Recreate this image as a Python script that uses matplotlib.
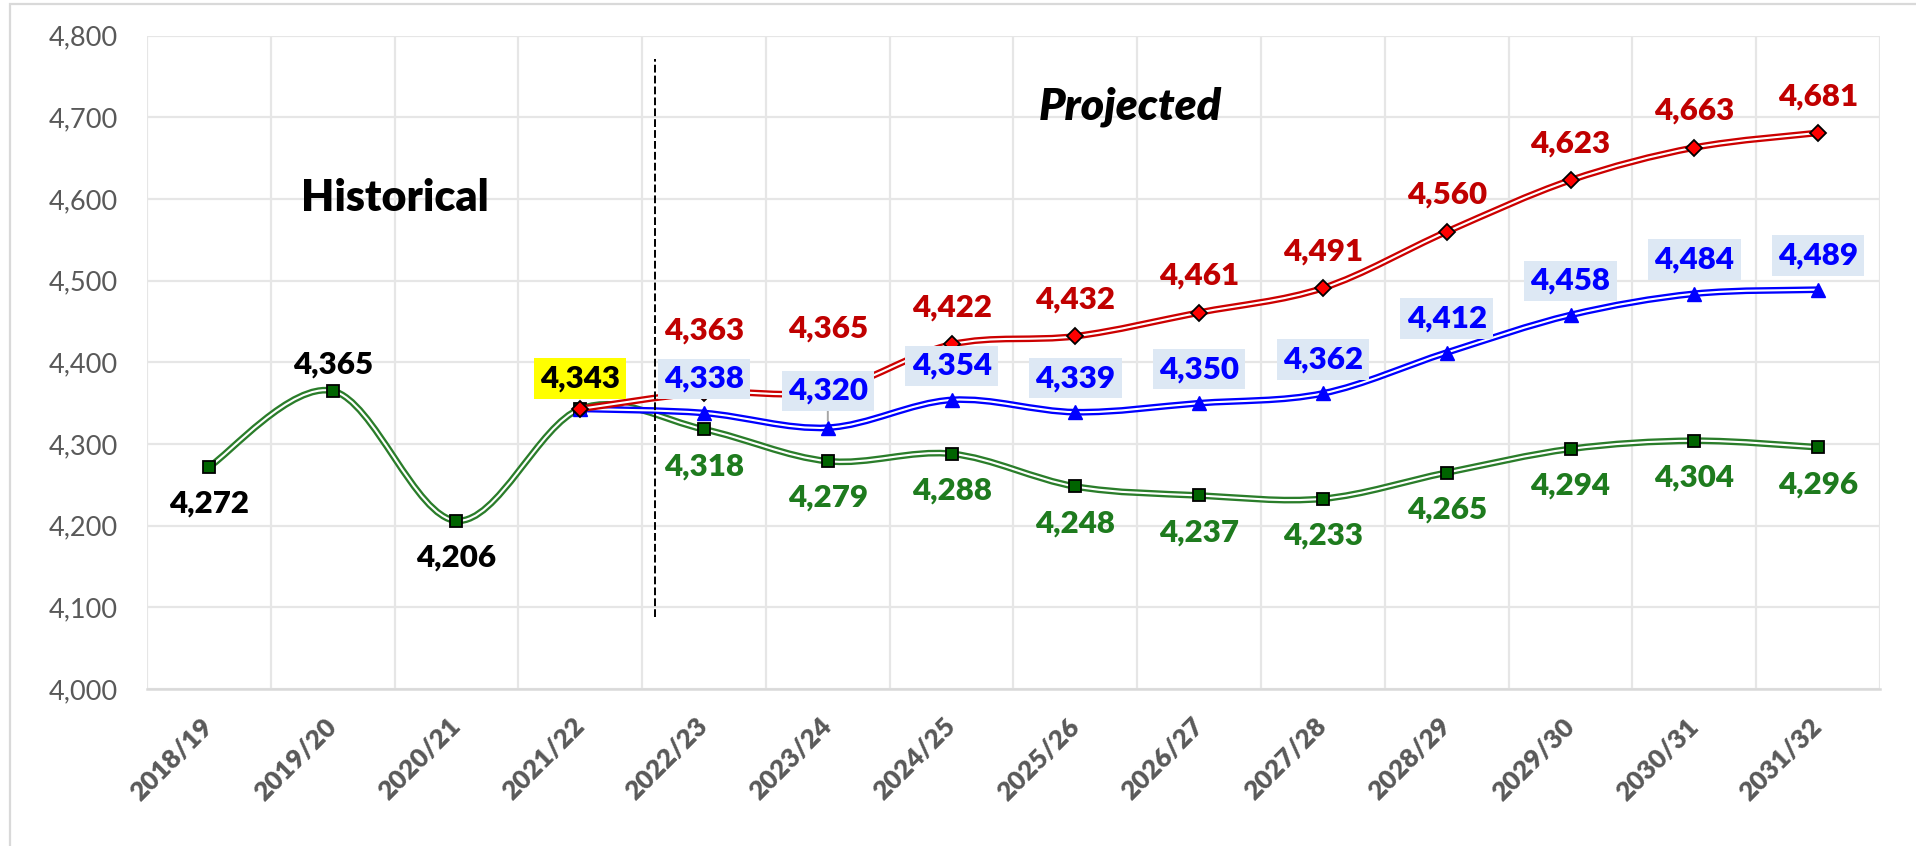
import matplotlib
matplotlib.use("Agg")
import matplotlib.pyplot as plt
import numpy as np
from matplotlib.path import Path
from matplotlib.patches import PathPatch, Rectangle
import matplotlib.transforms as mtrans

# ---------------- data ----------------
years = ["2018/19", "2019/20", "2020/21", "2021/22", "2022/23", "2023/24", "2024/25",
         "2025/26", "2026/27", "2027/28", "2028/29", "2029/30", "2030/31", "2031/32"]
baseline = [4272, 4365, 4206, 4343, 4318, 4279, 4288, 4248, 4237, 4233, 4265, 4294, 4304, 4296]
high = [4343, 4363, 4365, 4422, 4432, 4461, 4491, 4560, 4623, 4663, 4681]
mid = [4343, 4338, 4320, 4354, 4339, 4350, 4362, 4412, 4458, 4484, 4489]
proj_start = 3          # index of 2021/22, where projections begin
n_hist = 4              # historical points (black labels)
y_ticks = [4000, 4100, 4200, 4300, 4400, 4500, 4600, 4700, 4800]

plt.rcParams['font.family'] = ['Lato', 'DejaVu Sans']

W, H = 1916, 846
fig = plt.figure(figsize=(W / 100, H / 100), dpi=100)
ax = fig.add_axes([147 / W, 1 - 689 / H, (1880 - 147) / W, (689 - 35.7) / H])

GREEN_LINE = '#2a7d2a'
GREEN_TXT = '#1e7b1e'
RED_LINE = '#cc0000'
RED_TXT = '#c00000'
BLUE = '#0000ff'
GRID = '#e6e6e6'
TICK = '#595959'
LW = 'heavy'


def smooth_path(xs, ys):
    pts = np.column_stack([xs, ys]).astype(float)
    n = len(pts)
    verts = [pts[0]]
    codes = [Path.MOVETO]
    for i in range(n - 1):
        p0 = pts[i - 1] if i > 0 else pts[i]
        p1 = pts[i]
        p2 = pts[i + 1]
        p3 = pts[i + 2] if i + 2 < n else pts[i + 1]
        verts += [p1 + (p2 - p0) / 6, p2 - (p3 - p1) / 6, p2]
        codes += [Path.CURVE4] * 3
    return Path(verts, codes)


def double_line(xs, ys, color, z):
    p = smooth_path(xs, ys)
    ax.add_patch(PathPatch(p, fill=False, edgecolor=color, lw=4.8, zorder=z,
                           capstyle='butt', joinstyle='round'))
    ax.add_patch(PathPatch(p, fill=False, edgecolor='white', lw=1.5, zorder=z + 0.01,
                           capstyle='butt', joinstyle='round'))


x_all = np.arange(len(years))
x_proj = np.arange(proj_start, proj_start + len(high))

# lines
double_line(x_all, baseline, GREEN_LINE, 3)
double_line(x_proj, mid, BLUE, 4)
double_line(x_proj, high, RED_LINE, 5)

# markers
ax.plot(x_all, baseline, ls='none', marker='s', ms=8.5, mfc='#006400', mec='black', mew=1.3, zorder=3.5)
ax.plot(x_proj, mid, ls='none', marker='^', ms=10, mfc=BLUE, mec=BLUE, mew=1, zorder=4.5)
ax.plot(x_proj, high, ls='none', marker='D', ms=8, mfc='#ff0000', mec='black', mew=1.3, zorder=5.5)

LFS = 22.5
OFF = 26.5

# baseline labels
for i, v in enumerate(baseline):
    if i < n_hist:
        if i == 3:
            ax.annotate(f"{v:,}", (i, v), xytext=(0, 22), textcoords='offset points',
                        ha='center', va='center', fontsize=LFS, fontweight=LW, color='black',
                        bbox=dict(boxstyle='square,pad=0.2', fc='#ffff00', ec='none'), zorder=10)
            continue
        dy = 19 if i == 1 else -OFF
        ax.annotate(f"{v:,}", (i, v), xytext=(0, dy), textcoords='offset points',
                    ha='center', va='center', fontsize=LFS, fontweight=LW, color='black', zorder=10)
    else:
        ax.annotate(f"{v:,}", (i, v), xytext=(0, -OFF), textcoords='offset points',
                    ha='center', va='center', fontsize=LFS, fontweight=LW, color=GREEN_TXT, zorder=10)

# high labels
for k, (i, v) in enumerate(zip(x_proj, high)):
    if k == 0:
        continue
    dy = 45 if k in (1, 2) else OFF
    ax.annotate(f"{v:,}", (i, v), xytext=(0, dy), textcoords='offset points',
                ha='center', va='center', fontsize=LFS, fontweight=LW, color=RED_TXT, zorder=10)

# mid labels
for k, (i, v) in enumerate(zip(x_proj, mid)):
    if k == 0:
        continue
    dy = OFF - 2 if k != 2 else OFF
    kw = {}
    if k == 2:
        kw['arrowprops'] = dict(arrowstyle='-', color='#a6a6a6', lw=1.4, shrinkA=0, shrinkB=5)
    ax.annotate(f"{v:,}", (i, v), xytext=(0, dy), textcoords='offset points',
                ha='center', va='center', fontsize=LFS, fontweight=LW, color=BLUE,
                bbox=dict(boxstyle='square,pad=0.2', fc='#dde8f4', ec='none'), zorder=10, **kw)

# section texts
ax.text(1.5, 4601, "Historical", ha='center', va='center', fontsize=31, fontweight=LW,
        color='black', zorder=10)
ax.text(7.44, 4713, "Projected", ha='center', va='center', fontsize=32, fontweight=LW,
        fontstyle='italic', color='black', zorder=10)

# divider
ax.plot([3.6, 3.6], [4088, 4772], color='black', lw=1.4, ls=(0, (4, 1.6)), zorder=6)

# axes
ax.set_xlim(-0.5, len(years) - 0.5)
ax.set_ylim(y_ticks[0], y_ticks[-1])
ax.set_yticks(y_ticks)
ax.set_yticklabels([f"{t:,}" for t in y_ticks], fontsize=19.5, color=TICK)
ax.set_xticks(x_all)
ax.set_xticklabels(years, rotation=45, ha='right', va='center', rotation_mode='anchor',
                   fontsize=19, fontweight=LW, color=TICK)
shift = mtrans.ScaledTranslation(9 / 100, 0, fig.dpi_scale_trans)
for lbl in ax.get_xticklabels():
    lbl.set_transform(lbl.get_transform() + shift)
ax.set_xticks(np.arange(-0.5, len(years)), minor=True)
ax.tick_params(axis='both', which='both', length=0)
ax.tick_params(axis='y', pad=21)
ax.tick_params(axis='x', pad=24)
ax.grid(axis='y', which='major', color=GRID, lw=1.6, zorder=0)
ax.grid(axis='x', which='minor', color=GRID, lw=1.6, zorder=0)
for s in ['top', 'right', 'left']:
    ax.spines[s].set_visible(False)
ax.spines['bottom'].set_color('#d9d9d9')
ax.spines['bottom'].set_linewidth(1.8)
ax.set_axisbelow(True)

# chart border
fig.add_artist(Rectangle((10 / W, -0.1), 1.2, (846 - 4) / H + 0.1, transform=fig.transFigure,
                         fill=False, ec='#d9d9d9', lw=1.6))

fig.savefig('out.png', dpi=100)
